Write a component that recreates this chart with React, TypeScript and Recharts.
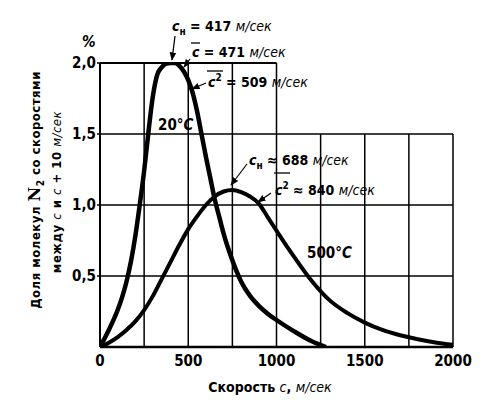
import React from "react";
import {
  ComposedChart,
  Line,
  XAxis,
  YAxis,
  ReferenceLine,
} from "recharts";

// 20 °C curve (speed, m/s -> share, %)
const speed20 = [0, 50, 100, 125, 150, 175, 200, 225, 250, 275, 300, 325, 350, 375, 400, 425, 450, 475, 500, 525, 550, 575, 600, 625, 650, 675, 700, 750, 800, 850, 900, 950, 1000, 1100, 1200, 1280];
const share20 = [0, 0.12, 0.26, 0.35, 0.46, 0.6, 0.78, 1.0, 1.24, 1.52, 1.77, 1.92, 1.97, 1.995, 2.0, 2.0, 1.98, 1.94, 1.88, 1.79, 1.66, 1.5, 1.34, 1.19, 1.04, 0.92, 0.8, 0.61, 0.46, 0.36, 0.29, 0.235, 0.19, 0.11, 0.04, 0.0];

// 500 °C curve
const speed500 = [0, 50, 100, 150, 200, 250, 300, 350, 400, 450, 500, 550, 600, 650, 700, 750, 800, 850, 900, 950, 1000, 1050, 1100, 1200, 1300, 1400, 1500, 1600, 1700, 1800, 1900, 2000];
const share500 = [0, 0.03, 0.07, 0.12, 0.18, 0.26, 0.36, 0.48, 0.6, 0.72, 0.83, 0.92, 1.0, 1.06, 1.095, 1.105, 1.09, 1.06, 1.01, 0.915, 0.82, 0.725, 0.635, 0.465, 0.33, 0.24, 0.172, 0.12, 0.083, 0.055, 0.032, 0.015];

const xTicks = [0, 500, 1000, 1500, 2000];
const yTicks = [0.5, 1, 1.5, 2];
const hLines = [0.5, 1, 1.5];
const vLinesTall = [250, 500, 750, 1000];
const vLinesShort = [1250, 1500, 1750, 2000];

const curve20 = speed20.map((v, i) => ({ v, p: share20[i] }));
const curve500 = speed500.map((v, i) => ({ v, p: share500[i] }));

const font = "'DejaVu Sans Condensed', 'DejaVu Sans', sans-serif";

const App: React.FC = () => {
  const seg = (x1: number, y1: number, x2: number, y2: number, w = 1.5) => (
    <ReferenceLine
      key={`${x1}-${y1}-${x2}-${y2}`}
      segment={[{ x: x1, y: y1 }, { x: x2, y: y2 }]}
      stroke="#000"
      strokeWidth={w}
    />
  );

  return (
    <div style={{ position: "absolute", left: 0, top: 0, width: 487, height: 400, background: "#fff" }}>
      <ComposedChart
        width={487}
        height={400}
        margin={{ top: 63, right: 34, bottom: 33, left: 60 }}
      >
        <XAxis
          type="number"
          dataKey="v"
          domain={[0, 2000]}
          ticks={xTicks}
          allowDataOverflow
          axisLine={false}
          tickLine={false}
          height={20}
          tickMargin={2}
          tick={{ fill: "#000", fontSize: 15, fontFamily: font, fontWeight: "bold" }}
        />
        <YAxis
          type="number"
          domain={[0, 2]}
          ticks={yTicks}
          allowDataOverflow
          width={40}
          axisLine={false}
          tickLine={{ stroke: "#000", strokeWidth: 1.5 }}
          tickSize={3}
          tickMargin={1}
          tickFormatter={(t: number) => t.toFixed(1).replace(".", ",")}
          tick={{ fill: "#000", fontSize: 15, fontFamily: font, fontWeight: "bold" }}
        />
        {hLines.map((y) => seg(0, y, 2000, y))}
        {seg(0, 2, 1000, 2, 2)}
        {vLinesTall.map((x) => seg(x, 0, x, 2))}
        {vLinesShort.map((x) => seg(x, 0, x, 1.5))}
        {seg(0, 0, 0, 2, 2)}
        {seg(0, 0, 2000, 0, 2.5)}
        <Line
          data={curve500}
          dataKey="p"
          type="monotone"
          stroke="#000"
          strokeWidth={4}
          dot={false}
          isAnimationActive={false}
        />
        <Line
          data={curve20}
          dataKey="p"
          type="monotone"
          stroke="#000"
          strokeWidth={4.5}
          dot={false}
          isAnimationActive={false}
        />
      </ComposedChart>

      <svg
        width={487}
        height={400}
        style={{ position: "absolute", left: 0, top: 0, pointerEvents: "none" }}
        fontFamily={font}
        fill="#000"
      >
        <defs>
          <marker id="arr" viewBox="0 0 10 10" refX="9" refY="5" markerWidth="7" markerHeight="7" orient="auto">
            <path d="M0,1 L10,5 L0,9 z" fill="#000" />
          </marker>
        </defs>

        {/* percent sign */}
        <text x={82} y={47} fontSize={15} fontWeight="bold" fontStyle="italic">%</text>

        {/* 20 C annotations */}
        <text x={172} y={31} fontSize={14} fontWeight="bold">
          <tspan fontStyle="italic">c</tspan>
          <tspan fontSize={10} dy={4}>н</tspan>
          <tspan dy={-4}> = 417 </tspan>
          <tspan fontStyle="italic" fontWeight="normal">м/сек</tspan>
        </text>
        <line x1={175} y1={36} x2={172} y2={60} stroke="#000" strokeWidth={1.2} markerEnd="url(#arr)" />

        <text x={192} y={57} fontSize={14} fontWeight="bold">
          <tspan fontStyle="italic">c</tspan>
          <tspan> = 471 </tspan>
          <tspan fontStyle="italic" fontWeight="normal">м/сек</tspan>
        </text>
        <line x1={191} y1={43} x2={200} y2={43} stroke="#000" strokeWidth={1.3} />
        <line x1={190} y1={59} x2={184} y2={67} stroke="#000" strokeWidth={1.2} markerEnd="url(#arr)" />

        <text x={208} y={87} fontSize={14} fontWeight="bold">
          <tspan fontStyle="italic">c</tspan>
          <tspan fontSize={10} dy={-6}>2</tspan>
          <tspan dy={6}> = 509 </tspan>
          <tspan fontStyle="italic" fontWeight="normal">м/сек</tspan>
        </text>
        <line x1={207} y1={71} x2={223} y2={71} stroke="#000" strokeWidth={1.3} />
        <line x1={206} y1={83} x2={192} y2={89} stroke="#000" strokeWidth={1.2} markerEnd="url(#arr)" />

        <text x={158} y={130} fontSize={15} fontWeight="bold">
          20°<tspan fontStyle="italic">C</tspan>
        </text>

        {/* 500 C annotations */}
        <text x={249} y={165} fontSize={14} fontWeight="bold">
          <tspan fontStyle="italic">c</tspan>
          <tspan fontSize={10} dy={4}>н</tspan>
          <tspan dy={-4}> ≈ 688 </tspan>
          <tspan fontStyle="italic" fontWeight="normal">м/сек</tspan>
        </text>
        <line x1={247} y1={164} x2={231} y2={185} stroke="#000" strokeWidth={1.2} markerEnd="url(#arr)" />

        <text x={275} y={195} fontSize={14} fontWeight="bold">
          <tspan fontStyle="italic">c</tspan>
          <tspan fontSize={10} dy={-6}>2</tspan>
          <tspan dy={6}> ≈ 840 </tspan>
          <tspan fontStyle="italic" fontWeight="normal">м/сек</tspan>
        </text>
        <line x1={274} y1={173} x2={290} y2={173} stroke="#000" strokeWidth={1.3} />
        <line x1={271} y1={193} x2={258} y2={202} stroke="#000" strokeWidth={1.2} markerEnd="url(#arr)" />

        <text x={307} y={258} fontSize={15} fontWeight="bold">
          500°<tspan fontStyle="italic">C</tspan>
        </text>

        {/* axis titles */}
        <text x={270} y={392} fontSize={14} textAnchor="middle" fontWeight="bold">
          Скорость  <tspan fontStyle="italic" fontWeight="normal">c</tspan>, <tspan fontStyle="italic" fontWeight="normal">м/сек</tspan>
        </text>
        <text
          transform="translate(40,190) rotate(-90)"
          fontSize={13}
          textAnchor="middle"
          fontWeight="bold"
          letterSpacing={0.5}
        >
          Доля молекул <tspan fontSize={16} fontFamily="'DejaVu Serif', serif">N</tspan>
          <tspan fontSize={10} dy={4}>2</tspan>
          <tspan dy={-4}> со скоростями</tspan>
        </text>
        <text
          transform="translate(61,192) rotate(-90)"
          fontSize={13}
          textAnchor="middle"
          fontWeight="bold"
          letterSpacing={0.5}
        >
          между  <tspan fontStyle="italic" fontWeight="normal">c</tspan>  и  <tspan fontStyle="italic" fontWeight="normal">c</tspan> + 10 <tspan fontStyle="italic" fontWeight="normal">м/сек</tspan>
        </text>
      </svg>
    </div>
  );
};

export default App;
